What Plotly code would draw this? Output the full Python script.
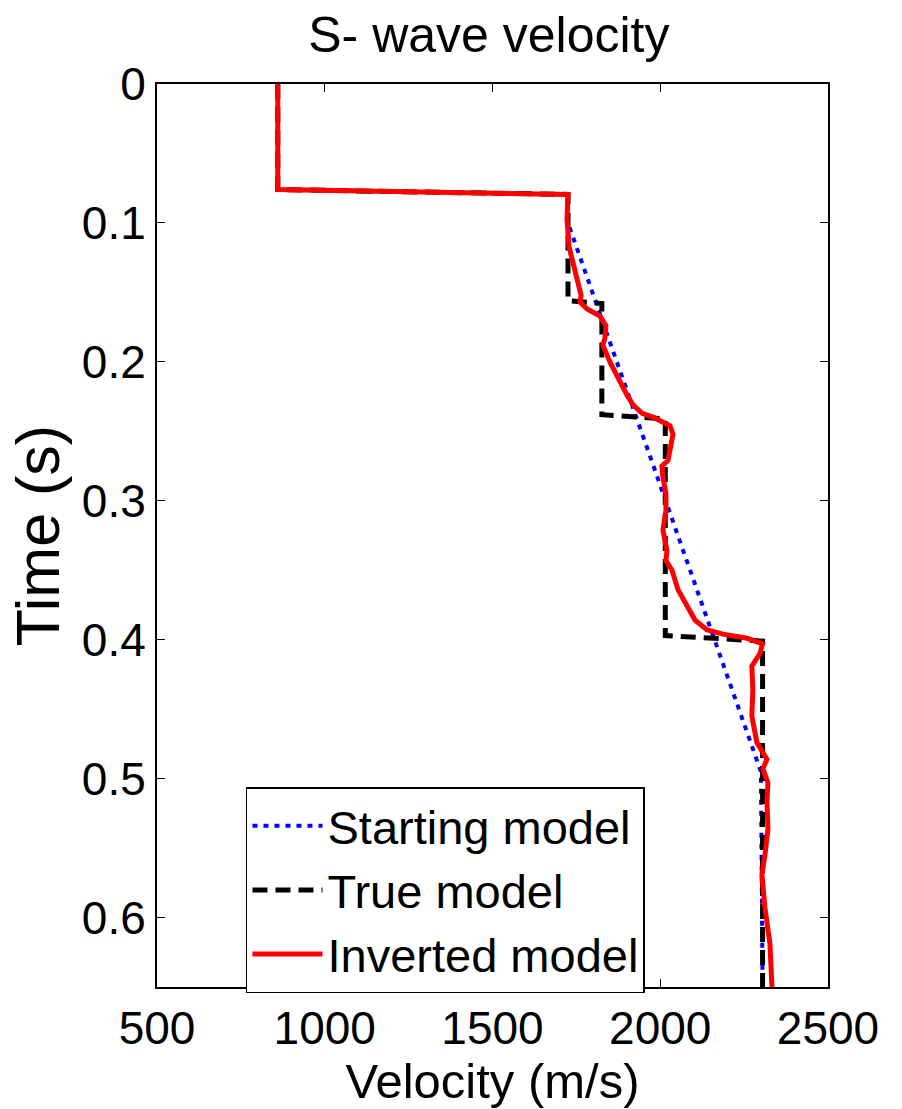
import plotly.graph_objects as go

# Starting model (blue dotted)
start_t = [0.0, 0.076, 0.0795, 0.100, 0.495, 0.650]
start_v = [860, 860, 1725, 1725, 2300, 2305]

# True model (black dashed)
true_t = [0.0, 0.076, 0.0795, 0.156, 0.158, 0.238, 0.241, 0.397, 0.401, 0.650]
true_v = [860, 860, 1725, 1725, 1826, 1826, 2015, 2015, 2305, 2305]

# Inverted model (red solid)
inv_t = [0.0, 0.076, 0.0795, 0.097, 0.117, 0.133, 0.152, 0.157, 0.162, 0.167,
         0.174, 0.183, 0.188, 0.200, 0.212, 0.224, 0.231, 0.237, 0.240, 0.246,
         0.252, 0.260, 0.271, 0.275, 0.283, 0.295, 0.307, 0.321, 0.336, 0.343,
         0.350, 0.364, 0.376, 0.386, 0.393, 0.396, 0.399, 0.403, 0.410, 0.419,
         0.436, 0.445, 0.455, 0.474, 0.486, 0.493, 0.503, 0.517, 0.536, 0.555,
         0.569, 0.593, 0.619, 0.650]
inv_v = [860, 860, 1725, 1722, 1728, 1746, 1764, 1761, 1782, 1820,
         1838, 1835, 1829, 1850, 1874, 1901, 1919, 1946, 1980, 2029,
         2038, 2033, 2023, 2005, 2008, 2017, 2017, 2008, 2020, 2017,
         2035, 2053, 2080, 2104, 2140, 2187, 2259, 2305, 2297, 2273,
         2276, 2276, 2273, 2288, 2318, 2306, 2321, 2318, 2321, 2312,
         2303, 2312, 2327, 2333]

x_ticks = [500, 1000, 1500, 2000, 2500]
y_ticks = [0, 0.1, 0.2, 0.3, 0.4, 0.5, 0.6]
y_tick_labels = ["0", "0.1", "0.2", "0.3", "0.4", "0.5", "0.6"]

FONT = "Liberation Sans, Arial, sans-serif"

fig = go.Figure()
fig.add_trace(go.Scatter(x=start_v, y=start_t, mode="lines", name="Starting model",
                         line=dict(color="rgb(0,0,255)", width=4, dash="5px,6px")))
fig.add_trace(go.Scatter(x=true_v, y=true_t, mode="lines", name="True model",
                         line=dict(color="black", width=5, dash="15px,8px")))
fig.add_trace(go.Scatter(x=inv_v, y=inv_t, mode="lines", name="Inverted model",
                         line=dict(color="rgb(255,0,0)", width=5)))

fig.update_layout(
    width=902, height=1109,
    margin=dict(l=157, r=74, t=84, b=116),
    paper_bgcolor="white", plot_bgcolor="white",
    font=dict(family=FONT, size=46, color="black"),
    title=dict(text="S- wave velocity", x=0.542, xanchor="center",
               y=0.969, yanchor="middle", font=dict(size=50)),
    legend=dict(x=0.1326, xanchor="left", y=-0.007, yanchor="bottom",
                bordercolor="black", borderwidth=1.5, bgcolor="white",
                font=dict(size=47), tracegroupgap=0, itemwidth=70),
    showlegend=True,
)
fig.update_xaxes(range=[500, 2500], tickvals=x_ticks, ticks="inside", ticklen=8,
                 tickwidth=1, tickcolor="black", showline=True, linecolor="black",
                 linewidth=2, mirror="allticks", showgrid=False, zeroline=False,
                 title=dict(text="Velocity (m/s)", font=dict(size=49), standoff=8))
fig.update_yaxes(range=[0.65, 0], tickvals=y_ticks, ticktext=y_tick_labels,
                 ticks="inside", ticklen=8, tickwidth=1, tickcolor="black",
                 showline=True, linecolor="black", linewidth=2, mirror="allticks",
                 showgrid=False, zeroline=False,
                 title=dict(text="Time (s)", font=dict(size=61), standoff=2))

fig.write_html("out.html")
